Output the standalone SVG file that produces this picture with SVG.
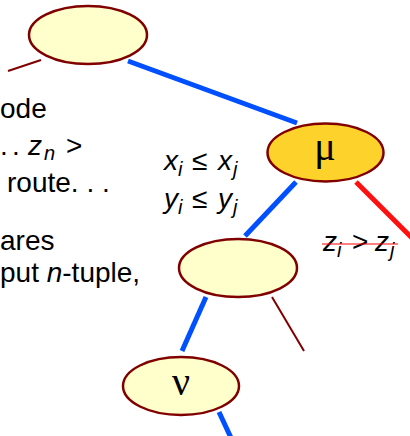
<svg xmlns="http://www.w3.org/2000/svg" width="410" height="436" viewBox="0 0 410 436">
<style>
.t{font-family:"Liberation Sans",Arial,sans-serif;font-size:28px;fill:#000}
.i{font-style:italic}
.s{font-size:20px}
.g{font-family:"Liberation Serif","Times New Roman",serif;font-size:40px;fill:#000;text-anchor:middle}
.n{stroke:#800000;stroke-width:2.5;fill:#ffffcc}
.mu{fill:#fdd22a}
.b{stroke:#0050ff;stroke-width:5;fill:none}
.r{stroke:#ff1010;stroke-width:5;fill:none}
.br{stroke:#800000;stroke-width:2;fill:none}
</style>
<rect width="410" height="436" fill="#fff"/>
<g id="connectors">
<line class="br" x1="8" y1="71" x2="41" y2="60"/>
<line class="b" x1="128" y1="61" x2="297" y2="123"/>
<line class="b" x1="296" y1="182" x2="245" y2="236"/>
<line class="r" x1="356" y1="182" x2="412" y2="238"/>
<line class="b" x1="206" y1="297" x2="182" y2="351"/>
<line class="br" x1="272" y1="297" x2="304" y2="351"/>
<line class="b" x1="219" y1="412" x2="232" y2="440"/>
</g>
<g id="node-root"><ellipse class="n" cx="88" cy="35" rx="59" ry="29"/></g>
<g id="node-mu"><ellipse class="n mu" cx="325.5" cy="152.5" rx="58" ry="29"/><text class="g" x="325" y="160">μ</text></g>
<g id="node-mid"><ellipse class="n" cx="238" cy="268" rx="59" ry="29"/></g>
<g id="node-nu"><ellipse class="n" cx="181" cy="386" rx="58" ry="29"/><text class="g" x="181" y="395">ν</text></g>
<g id="text-left">
<text class="t" x="0" y="118">ode</text>
<text class="t" x="0" y="155">.</text>
<text class="t" x="12" y="155">.</text>
<text class="t i" x="28" y="155">z</text>
<text class="t i s" x="44" y="160">n</text>
<text class="t" x="66" y="155">&gt;</text>
<text class="t" x="7" y="192">route. . .</text>
<text class="t" x="0" y="250">ares</text>
<text class="t" x="0" y="282">put <tspan class="i">n</tspan>-tuple,</text>
</g>
<g id="labels">
<text class="t i" x="164" y="170">x</text><text class="t i s" x="178" y="176">i</text>
<text class="t" x="192" y="170">≤</text>
<text class="t i" x="218" y="170">x</text><text class="t i s" x="233" y="176">j</text>
<text class="t i" x="164" y="208">y</text><text class="t i s" x="178" y="214">i</text>
<text class="t" x="192" y="208">≤</text>
<text class="t i" x="218" y="208">y</text><text class="t i s" x="233" y="214">j</text>
<text class="t i" x="323" y="251">z</text><text class="t i s" x="337" y="257">i</text>
<text class="t" x="352" y="251">&gt;</text>
<text class="t i" x="375" y="251">z</text><text class="t i s" x="390" y="257">j</text>
<line x1="322" y1="244" x2="398" y2="244" stroke="#ff0000" stroke-width="1"/>
</g>
</svg>
